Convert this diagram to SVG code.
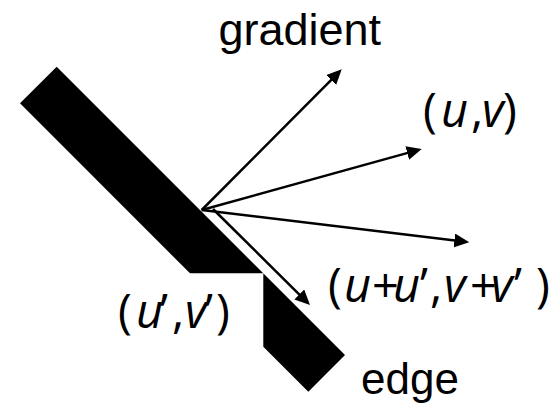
<svg xmlns="http://www.w3.org/2000/svg" width="555" height="405" viewBox="0 0 555 405">
<style>
.lbl{font-family:"Liberation Sans",Arial,sans-serif;font-size:45px;fill:#000}
.m{font-family:"Open Sans","Noto Sans",sans-serif;font-size:47px;fill:#000}
.i{font-style:italic}
.arr{stroke:#000;stroke-width:2.5;fill:none;marker-end:url(#ah)}
</style>
<defs>
<marker id="ah" markerUnits="userSpaceOnUse" markerWidth="15" markerHeight="14" refX="9" refY="7" orient="auto" viewBox="0 0 15 14">
<path d="M0,0 L15,7 L0,14 z" fill="#000"/>
</marker>
</defs>
<rect width="555" height="405" fill="#fff"/>
<g id="edge-band">
<polygon points="20,103.3 56.7,66.7 345,355 308.3,391.7 263.3,346.7 263.3,273.3 190,273.3" fill="#000"/>
</g>
<g id="connectors">
<line class="arr" x1="201.7" y1="210" x2="337.5" y2="73.6"/>
<line class="arr" x1="201.7" y1="210" x2="415.9" y2="150.6"/>
<line class="arr" x1="201.7" y1="210" x2="463.3" y2="241.6"/>
<line class="arr" x1="213" y1="209" x2="305.7" y2="300.8"/>
</g>
<g id="label-gradient"><text class="lbl" x="218.5" y="45">gradient</text></g>
<g id="label-edge"><text class="lbl" x="361" y="394" style="font-size:44px">edge</text></g>
<g id="label-uv"><text class="m" y="127"><tspan x="423">(</tspan><tspan class="i" x="441">u</tspan><tspan x="471">,</tspan><tspan class="i" x="482">v</tspan><tspan x="503">)</tspan></text></g>
<g id="label-uuvv"><text class="m" y="302"><tspan x="328">(</tspan><tspan class="i" x="344">u</tspan><tspan x="372">+</tspan><tspan class="i" x="393">u</tspan><tspan x="420">’</tspan><tspan x="430">,</tspan><tspan class="i" x="444">v</tspan><tspan x="470">+</tspan><tspan class="i" x="491">v</tspan><tspan x="514">’</tspan><tspan x="536">)</tspan></text></g>
<g id="label-u1v1"><text class="m" y="328"><tspan x="118">(</tspan><tspan class="i" x="136">u</tspan><tspan x="160">’</tspan><tspan x="172">,</tspan><tspan class="i" x="185">v</tspan><tspan x="205">’</tspan><tspan x="216">)</tspan></text></g>
</svg>
